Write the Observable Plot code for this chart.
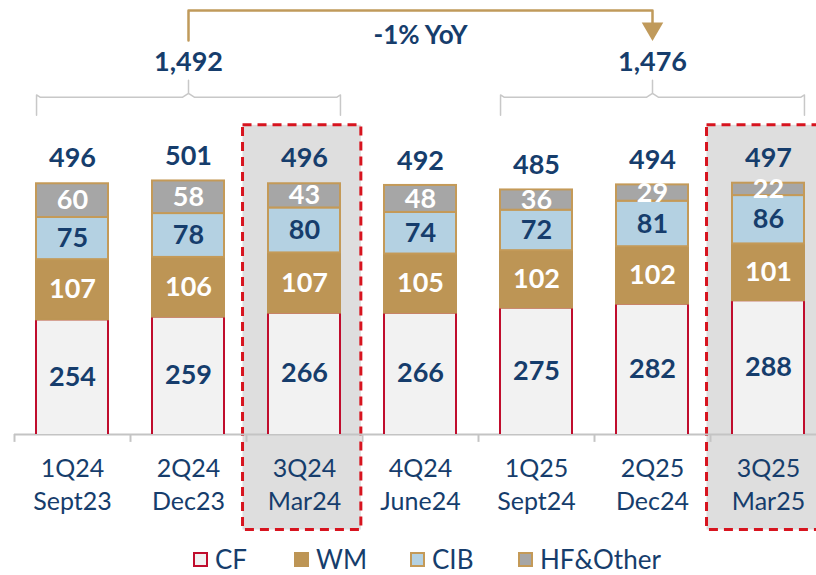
<!DOCTYPE html>
<html><head><meta charset="utf-8">
<script src="https://cdn.jsdelivr.net/npm/d3@7"></script>
<script src="https://cdn.jsdelivr.net/npm/@observablehq/plot@0.6"></script>
<style>
body{margin:0;background:#fff;font-family:Lato,sans-serif;}
#chart svg{display:block;overflow:visible;}
#legend{position:relative;height:35px;color:#163d6c;font-size:26px;}
.item{position:absolute;top:3px;display:flex;align-items:center;white-space:nowrap;}
.sw{width:11px;height:11px;border:2px solid;margin-right:7px;}
</style></head><body>
<div id="chart"></div><div id="legend"></div>
<script>
// ---- data ----
const quarters = ["1Q24","2Q24","3Q24","4Q24","1Q25","2Q25","3Q25"];
const months = ["Sept23","Dec23","Mar24","June24","Sept24","Dec24","Mar25"];
const series = ["CF","WM","CIB","HF&Other"];
const CF  = [254,259,266,266,275,282,288];
const WM  = [107,106,107,105,102,102,101];
const CIB = [75,78,80,74,72,81,86];
const HF  = [60,58,43,48,36,29,22];
const totals = [496,501,496,492,485,494,497];
const groupTotals = ["1,492","1,476"];
const groupSpans = [[0,2],[4,6]];
const highlighted = [2,6];
const yoyLabel = "-1% YoY";

// ---- styles ----
const navy = "#163d6c";
const fills   = {"CF":"#f2f2f2","WM":"#bd9555","CIB":"#b4d1e2","HF&Other":"#a6a6a6"};
const strokes = {"CF":"#c00d2d","WM":"#bd9555","CIB":"#c49a58","HF&Other":"#c49a58"};
const labelFill = {"CF":navy,"WM":"#ffffff","CIB":navy,"HF&Other":"#ffffff"};
const legendLeft = {"CF":193,"WM":294,"CIB":410,"HF&Other":518};
const gold = "#c09a5b";
const yBase = 50;

// stacked table built from the arrays
const values = {"CF":CF,"WM":WM,"CIB":CIB,"HF&Other":HF};
const table = [];
quarters.forEach((q,i)=>{
  let acc = 0;
  series.forEach(s=>{
    const v = values[s][i];
    table.push({i, q, s, v, y1: acc, y2: acc+v});
    acc += v;
  });
});

// annotation geometry (in chart units)
const braceEnd = 618, braceLine = 650, braceNotch = 657, braceTop = 680;
const groupLabelY = 712, arrowStart = 751, arrowTop = 804, arrowHead = 772, yoyY = 760;
const half = 0.31;
const braces = groupSpans.map(([a,b],g)=>{
  const x1 = a-half, x2 = b+half, c = (x1+x2)/2;
  return [[x1,braceEnd],[x1,braceLine+4],[x1+0.03,braceLine],[c-0.05,braceLine],[c,braceNotch],[c,braceTop],
          [c,braceNotch],[c+0.05,braceLine],[x2-0.03,braceLine],[x2,braceLine+4],[x2,braceEnd]].map(p=>({x:p[0],y:p[1],g}));
}).flat();
const centers = groupSpans.map(([a,b])=>(a+b)/2);
const arrow = [[centers[0],arrowStart],[centers[0],arrowTop],[centers[1],arrowTop],[centers[1],arrowHead+6]].map(p=>({x:p[0],y:p[1]}));

const chart = Plot.plot({
  width: 816, height: 540,
  marginTop: 0, marginBottom: 106, marginLeft: 14, marginRight: 0,
  style: {fontFamily: "Lato, sans-serif", background: "#fff"},
  x: {type:"linear", domain:[-0.5,6.5], range:[14,826], axis:null},
  y: {domain:[yBase,822], axis:null},
  color: {type:"identity"},
  marks: [
    Plot.rect(highlighted, {x1: d=>d-0.53, x2: d=>d+0.49, y1: -120, y2: 600, fill:"#dedede", stroke:"#d7141f", strokeWidth:3, strokeDasharray:"9,6"}),
    Plot.ruleY([yBase], {stroke:"#c4c4c4", strokeWidth:2}),
    Plot.ruleX(d3.range(8).map(i=>i-0.5), {y1: yBase, y2: 36, stroke:"#c4c4c4", strokeWidth:2}),
    Plot.rect(table, {x1: d=>d.i-0.5, x2: d=>d.i+0.5, y1:"y1", y2:"y2", insetLeft:22, insetRight:22,
      fill: d=>fills[d.s], stroke: d=>strokes[d.s], strokeWidth:2, clip:true}),
    Plot.text(table, {x:"i", y: d=>(Math.max(d.y1,yBase)+d.y2)/2, text: d=>String(d.v),
      fill: d=>labelFill[d.s], fontSize:27, fontWeight:"bold"}),
    Plot.text(totals, {x:(d,i)=>i, y: d=>d, dy:-25, text: d=>String(d), fill:navy, fontSize:27, fontWeight:"bold"}),
    Plot.text(quarters, {x:(d,i)=>i, y:yBase, dy:34, text:d=>d, fill:navy, fontSize:25}),
    Plot.text(months, {x:(d,i)=>i, y:yBase, dy:67, text:d=>d, fill:navy, fontSize:25}),
    Plot.line(braces, {x:"x", y:"y", z:"g", stroke:"#c8c8c8", strokeWidth:1.5}),
    Plot.text(groupTotals, {x:(d,i)=>centers[i], y:groupLabelY, text:d=>d, fill:navy, fontSize:27, fontWeight:"bold"}),
    Plot.line(arrow, {x:"x", y:"y", stroke:gold, strokeWidth:2.5}),
    Plot.dot([centers[1]], {x:d=>d, y:arrowHead, symbol:"triangle", rotate:180, r:8, fill:gold, stroke:"none"}),
    Plot.text([yoyLabel], {x:(centers[0]+centers[1])/2, y:yoyY, text:d=>d, fill:navy, fontSize:26, fontWeight:"bold"})
  ]
});
document.getElementById("chart").appendChild(chart);

const legend = document.getElementById("legend");
series.forEach(s=>{
  const it = document.createElement("div"); it.className="item";
  it.style.left = legendLeft[s] + "px";
  const sw = document.createElement("span"); sw.className="sw";
  sw.style.background = fills[s]; sw.style.borderColor = strokes[s];
  const t = document.createElement("span"); t.textContent = s;
  it.appendChild(sw); it.appendChild(t); legend.appendChild(it);
});
</script></body></html>
